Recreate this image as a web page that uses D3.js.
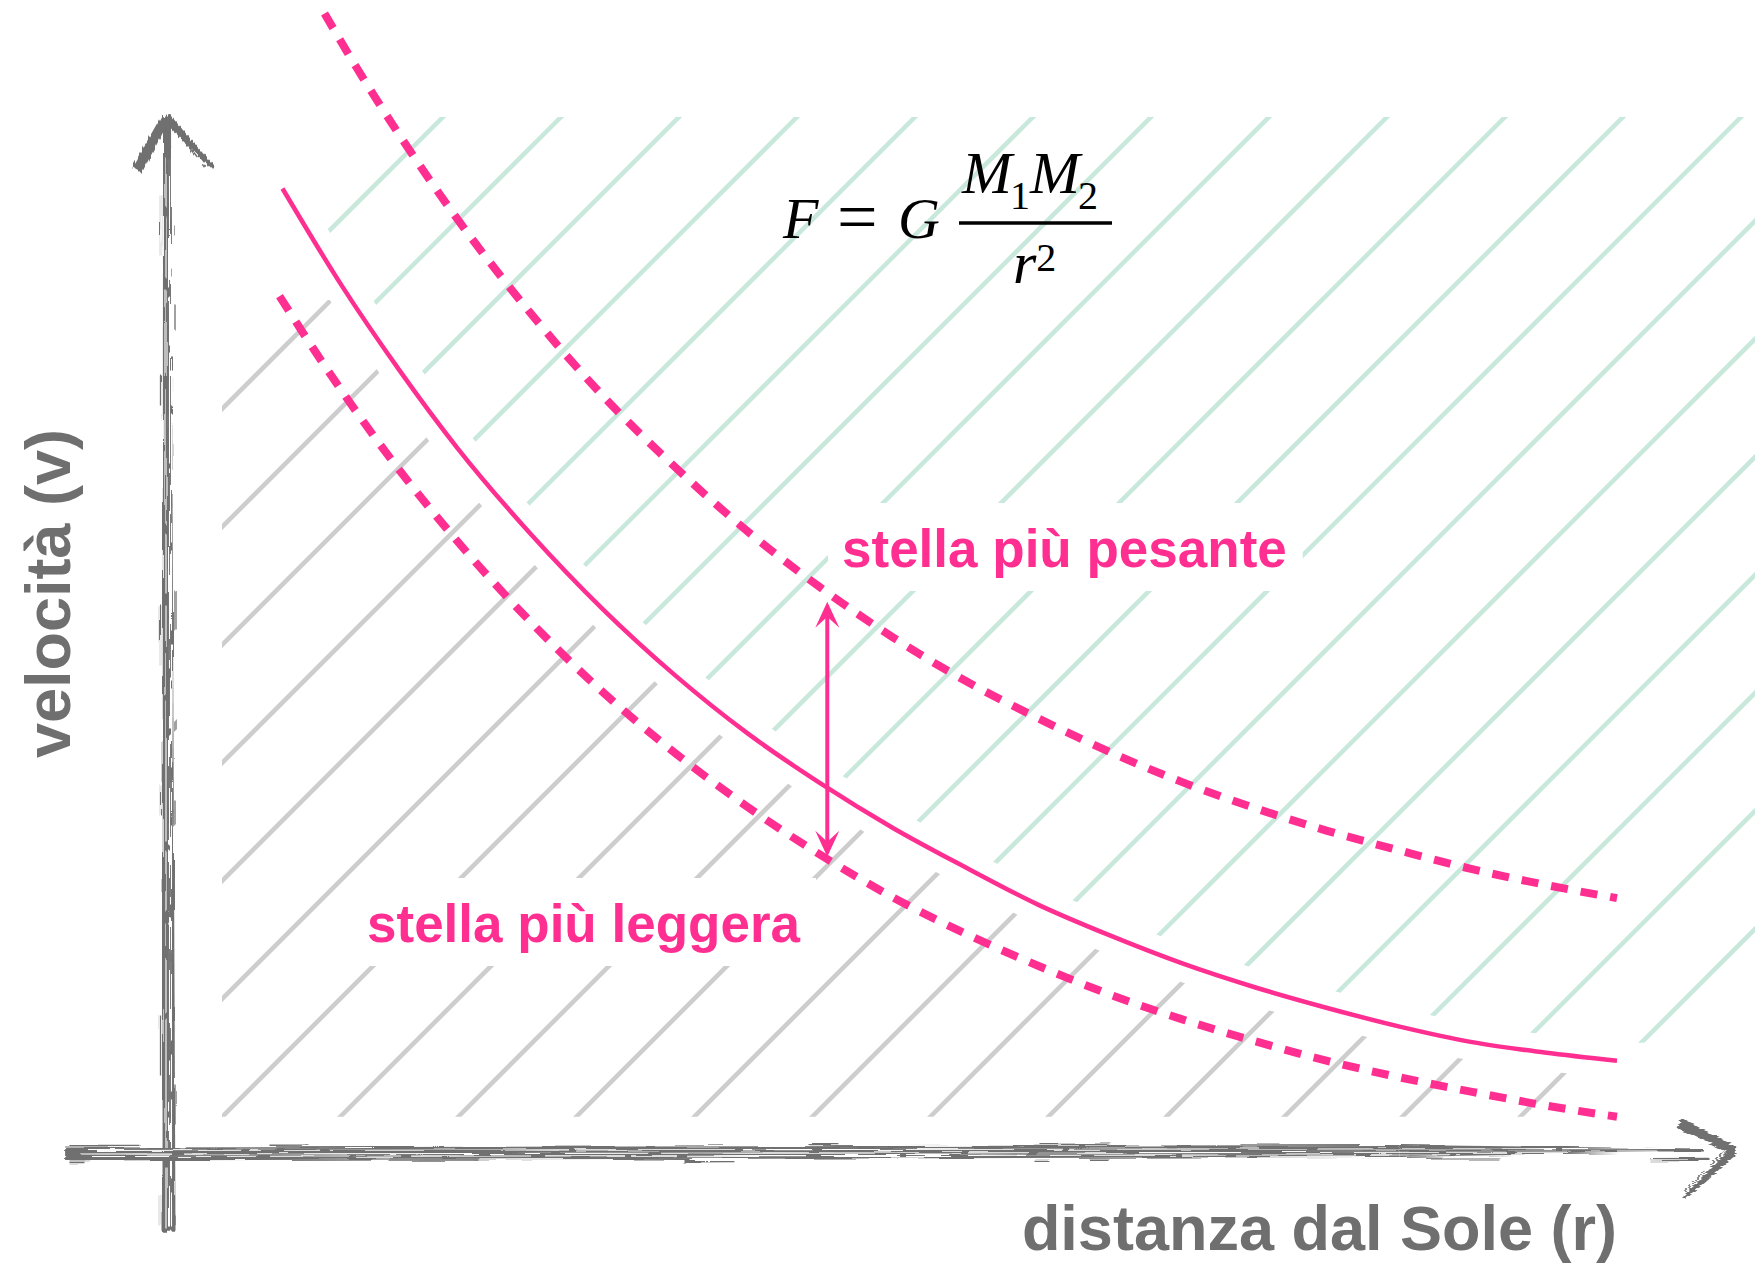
<!DOCTYPE html>
<html>
<head>
<meta charset="utf-8">
<script src="https://cdn.jsdelivr.net/npm/d3@7"></script>
<style>
  html, body { margin: 0; padding: 0; background: #ffffff; }
  svg { display: block; }
</style>
</head>
<body>
<svg id="chart" width="1755" height="1263"></svg>
<script>
// Orbital speed against distance from the Sun: reference curve plus
// the curves for a heavier and a lighter central star.
const rSolid = [0.79, 1.2, 1.6, 2.0, 2.5, 3.0, 3.5, 4.0, 4.5, 5.0, 5.5, 6.0, 6.5, 7.0, 7.5, 8.0, 8.5, 9.0, 9.5, 10.0];
const vSolid = [9.31, 8.37, 7.55, 6.80, 5.98, 5.25, 4.61, 4.05, 3.57, 3.14, 2.76, 2.40, 2.10, 1.83, 1.60, 1.40, 1.22, 1.07, 0.97, 0.89];

const rHeavy = [1.08, 1.3, 1.6, 2.0, 2.5, 3.0, 3.5, 4.0, 4.5, 5.0, 5.5, 6.0, 6.5, 7.0, 7.5, 8.0, 8.5, 9.0, 9.5, 10.0];
const vHeavy = [11.00, 10.48, 9.82, 9.01, 8.11, 7.31, 6.62, 6.00, 5.46, 4.98, 4.56, 4.20, 3.87, 3.58, 3.33, 3.11, 2.92, 2.74, 2.59, 2.46];

const rLight = [0.77, 1.0, 1.5, 2.0, 2.5, 3.0, 3.5, 4.0, 4.5, 5.0, 5.5, 6.0, 6.5, 7.0, 7.5, 8.0, 8.5, 9.0, 9.5, 10.0];
const vLight = [8.27, 7.77, 6.77, 5.90, 5.13, 4.45, 3.86, 3.34, 2.88, 2.47, 2.12, 1.81, 1.53, 1.29, 1.08, 0.89, 0.73, 0.59, 0.46, 0.35];

// double-headed arrow between the two star curves
const arrowR = [4.55];
const arrowV = [2.86, 5.32];

const labels = {
  heavy: "stella più pesante",
  light: "stella più leggera",
  xAxis: "distanza dal Sole (r)",
  yAxis: "velocità (v)"
};

const PINK = "#ff2f92";
const AXIS_GRAY = "#6f6f6f";
const HATCH_GRAY = "#cdcdcd";
const HATCH_GREEN = "#c8e8dc";
const SANS = "'Liberation Sans', Arial, Helvetica, sans-serif";
const SERIF = "'Liberation Serif', 'Times New Roman', serif";

const svg = d3.select("#chart");
const W = 1755, H = 1263;

const x = d3.scaleLinear().domain([0, 10]).range([168, 1617]);
const y = d3.scaleLinear().domain([0, 10]).range([1153, 117]);

const toPts = (rs, vs) => rs.map((r, i) => [x(r), y(vs[i])]);
const solidPts = toPts(rSolid, vSolid);
const heavyPts = toPts(rHeavy, vHeavy);
const lightPts = toPts(rLight, vLight);

const line = d3.line().curve(d3.curveMonotoneX);

const defs = svg.append("defs");

// rough brush texture for the hand-drawn axes
const fH = defs.append("filter").attr("id", "roughH")
  .attr("x", "-2%").attr("y", "-40%").attr("width", "104%").attr("height", "180%");
fH.append("feTurbulence").attr("type", "fractalNoise")
  .attr("baseFrequency", "0.015 0.5").attr("numOctaves", 2).attr("seed", 4).attr("result", "n");
fH.append("feDisplacementMap").attr("in", "SourceGraphic").attr("in2", "n")
  .attr("scale", 5).attr("xChannelSelector", "R").attr("yChannelSelector", "G");

const fV = defs.append("filter").attr("id", "roughV")
  .attr("x", "-40%").attr("y", "-2%").attr("width", "180%").attr("height", "104%");
fV.append("feTurbulence").attr("type", "fractalNoise")
  .attr("baseFrequency", "0.5 0.015").attr("numOctaves", 2).attr("seed", 9).attr("result", "n");
fV.append("feDisplacementMap").attr("in", "SourceGraphic").attr("in2", "n")
  .attr("scale", 5).attr("xChannelSelector", "R").attr("yChannelSelector", "G");

// ---- hatch regions -------------------------------------------------------
const first = solidPts[0], last = solidPts[solidPts.length - 1];
const hatchTop = y(10), hatchBottom = y(0.35);

// area under the reference curve
defs.append("clipPath").attr("id", "below")
  .append("path")
  .attr("d", line(solidPts) + `L${W},${last[1]}L${W},${H}L0,${H}L0,${first[1]}Z`);
// area above the reference curve
defs.append("clipPath").attr("id", "above")
  .append("path")
  .attr("d", line(solidPts) + `L${W},${last[1]}L${W},0L0,0L0,${first[1]}Z`);

defs.append("clipPath").attr("id", "grayBox").append("rect")
  .attr("x", 222).attr("y", 300).attr("width", x(10) - 222).attr("height", hatchBottom - 300);
defs.append("clipPath").attr("id", "greenBox").append("rect")
  .attr("x", 328).attr("y", hatchTop).attr("width", W - 328).attr("height", hatchBottom - hatchTop);

function diagonals(g, phase, color) {
  const step = 118;
  const cs = d3.range(phase, W + H + step, step);
  g.selectAll("line").data(cs).join("line")
    .attr("x1", c => c).attr("y1", 0)
    .attr("x2", c => c - H).attr("y2", H)
    .attr("stroke", color).attr("stroke-width", 4.5);
}

const hatch = svg.append("g");
diagonals(hatch.append("g").attr("clip-path", "url(#grayBox)")
  .append("g").attr("clip-path", "url(#below)"), 41, HATCH_GRAY);
diagonals(hatch.append("g").attr("clip-path", "url(#greenBox)")
  .append("g").attr("clip-path", "url(#above)"), 88, HATCH_GREEN);

// white channel that separates the two hatch colours along the curve
svg.append("path")
  .attr("d", line(solidPts) + `L${W},${last[1]}`)
  .attr("fill", "none").attr("stroke", "#fff").attr("stroke-width", 36);

// ---- labels' white backgrounds -------------------------------------------
const labelSize = 53;
const heavyLbl = { x: 842, y: 567 };
const lightLbl = { x: 367, y: 942 };

function labelBox(pos, txt) {
  const t = svg.append("text").attr("x", pos.x).attr("y", pos.y)
    .attr("font-family", SANS).attr("font-weight", 700).attr("font-size", labelSize)
    .text(txt);
  const w = t.node().getComputedTextLength();
  t.remove();
  svg.append("rect")
    .attr("x", pos.x - 14).attr("y", pos.y - 64)
    .attr("width", w + 30).attr("height", 88)
    .attr("fill", "#fff");
}
labelBox(heavyLbl, labels.heavy);
labelBox(lightLbl, labels.light);

// ---- curves ----------------------------------------------------------------
svg.append("path").attr("d", line(heavyPts))
  .attr("fill", "none").attr("stroke", PINK).attr("stroke-width", 8)
  .attr("stroke-dasharray", "17 13");
svg.append("path").attr("d", line(lightPts))
  .attr("fill", "none").attr("stroke", PINK).attr("stroke-width", 8)
  .attr("stroke-dasharray", "17 13");
svg.append("path").attr("d", line(solidPts))
  .attr("fill", "none").attr("stroke", PINK).attr("stroke-width", 4.5);

// ---- double arrow ------------------------------------------------------------
const ax = x(arrowR[0]);
const yLo = y(arrowV[0]), yHi = y(arrowV[1]);
svg.append("line").attr("x1", ax).attr("x2", ax)
  .attr("y1", yHi + 14).attr("y2", yLo - 14)
  .attr("stroke", PINK).attr("stroke-width", 4);
function head(tipY, dir) {
  // dir = -1 points up, +1 points down
  const len = 26, half = 12, notch = 11;
  svg.append("path")
    .attr("d", `M${ax},${tipY}L${ax - half},${tipY - dir * len}L${ax},${tipY - dir * (len - notch)}L${ax + half},${tipY - dir * len}Z`)
    .attr("fill", PINK);
}
head(yHi, -1);
head(yLo, 1);

// ---- label texts -------------------------------------------------------------
svg.append("text").attr("x", heavyLbl.x).attr("y", heavyLbl.y)
  .attr("font-family", SANS).attr("font-weight", 700).attr("font-size", labelSize)
  .attr("fill", PINK).text(labels.heavy);
svg.append("text").attr("x", lightLbl.x).attr("y", lightLbl.y)
  .attr("font-family", SANS).attr("font-weight", 700).attr("font-size", labelSize)
  .attr("fill", PINK).text(labels.light);

// ---- formula F = G M1M2 / r^2 --------------------------------------------------
const fm = svg.append("g").attr("font-family", SERIF).attr("fill", "#000");
fm.append("text").attr("x", 783).attr("y", 238).attr("font-size", 58)
  .attr("font-style", "italic").text("F");
fm.append("text").attr("x", 837).attr("y", 241).attr("font-size", 72).text("=");
fm.append("text").attr("x", 898).attr("y", 238).attr("font-size", 58)
  .attr("font-style", "italic").text("G");
fm.append("line").attr("x1", 959).attr("x2", 1112).attr("y1", 223).attr("y2", 223)
  .attr("stroke", "#000").attr("stroke-width", 3.5);
const num = fm.append("text").attr("x", 962).attr("y", 193).attr("font-size", 60);
num.append("tspan").attr("font-style", "italic").text("M");
num.append("tspan").attr("font-size", 40).attr("dy", 16).attr("dx", -2).text("1");
num.append("tspan").attr("font-style", "italic").attr("dy", -16).text("M");
num.append("tspan").attr("font-size", 40).attr("dy", 16).attr("dx", -2).text("2");
const den = fm.append("text").attr("x", 1013).attr("y", 283).attr("font-size", 60);
den.append("tspan").attr("font-style", "italic").text("r");
den.append("tspan").attr("font-size", 40).attr("dy", -12).text("2");

// ---- hand-drawn axes -------------------------------------------------------------
function band(g, p1, p2, w1, w2) {
  const dx = p2[0] - p1[0], dy = p2[1] - p1[1];
  const L = Math.hypot(dx, dy), nx = -dy / L, ny = dx / L;
  g.append("path")
    .attr("d", `M${p1[0] + nx * w1 / 2},${p1[1] + ny * w1 / 2}` +
               `L${p2[0] + nx * w2 / 2},${p2[1] + ny * w2 / 2}` +
               `L${p2[0] - nx * w2 / 2},${p2[1] - ny * w2 / 2}` +
               `L${p1[0] - nx * w1 / 2},${p1[1] - ny * w1 / 2}Z`)
    .attr("fill", AXIS_GRAY);
}
function bristles(g, p1, p2, offsets, dashes, color, width) {
  const dx = p2[0] - p1[0], dy = p2[1] - p1[1];
  const L = Math.hypot(dx, dy), nx = -dy / L, ny = dx / L;
  offsets.forEach((o, i) => {
    g.append("line")
      .attr("x1", p1[0] + nx * o).attr("y1", p1[1] + ny * o)
      .attr("x2", p2[0] + nx * o).attr("y2", p2[1] + ny * o)
      .attr("stroke", color).attr("stroke-width", width)
      .attr("stroke-dasharray", dashes[i % dashes.length]);
  });
}

const x0 = x(0), y0 = y(0);
// vertical axis
const gy = svg.append("g").attr("filter", "url(#roughV)");
band(gy, [x0 + 1, y(-0.76)], [x0 - 1, y(10) + 6], 13, 8);
bristles(gy, [x0, y(-0.72)], [x0, y(9.6)], [-2, 1.5, 3.5],
  ["60 9 140 6 90 12", "110 7 50 10 200 5", "35 14 80 8"], "#fff", 1.1);
bristles(gy, [x0, y(-0.7)], [x0, y(9.7)], [-7.5, 7],
  ["30 120 60 200", "10 90 40 260 25 70"], AXIS_GRAY, 1.3);
// arrow head of the vertical axis
band(gy, [137, 170], [x0 - 2, y(10)], 11, 9);
band(gy, [x0 - 2, y(10)], [213, 168], 9, 4);
bristles(gy, [x0 + 6, y(10) + 6], [212, 172], [0, 3], ["50", "8 4 30"], AXIS_GRAY, 1.4);

// horizontal axis
const gx = svg.append("g").attr("filter", "url(#roughH)");
band(gx, [x(-0.71), y0 + 1], [x(8.5), y0 - 2], 13, 12);
band(gx, [x(8.5), y0 - 2], [x(10.6), y0 - 3], 12, 3);
bristles(gx, [x(-0.6), y0], [x(10.4), y0 - 2], [-2.5, 1, 3.5],
  ["160 8 70 10 240 6", "90 12 300 7 60 9", "45 10 120 14 80 6"], "#fff", 1.1);
bristles(gx, [x(-0.68), y0], [x(10.7), y0 - 2], [-7.5, 7.5, 9.5],
  ["70 130 40 500 30 200", "20 300 90 150 60 400", "15 600 50 300"], AXIS_GRAY, 1.3);
// arrow head of the horizontal axis
const tipX = [x(10.81), y0 - 2];
band(gx, [1680, 1123], tipX, 11, 9);
band(gx, tipX, [1684, 1198], 8, 3);
bristles(gx, [1728, 1156], [1686, 1198], [3, 6], ["40 5 10", "20 6 30"], AXIS_GRAY, 1.3);

// ---- axis titles -----------------------------------------------------------------
svg.append("text")
  .attr("x", x(10)).attr("y", 1250)
  .attr("text-anchor", "end")
  .attr("font-family", SANS).attr("font-weight", 700).attr("font-size", 63)
  .attr("fill", AXIS_GRAY).text(labels.xAxis);
svg.append("text")
  .attr("transform", `translate(70, ${y(5.4)}) rotate(-90)`)
  .attr("text-anchor", "middle")
  .attr("font-family", SANS).attr("font-weight", 700).attr("font-size", 63)
  .attr("fill", AXIS_GRAY).text(labels.yAxis);
</script>
</body>
</html>
